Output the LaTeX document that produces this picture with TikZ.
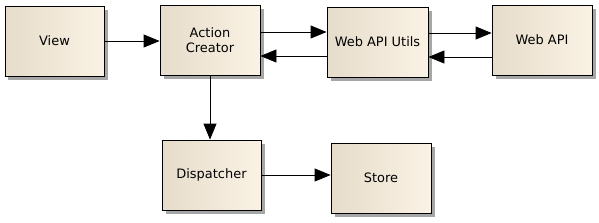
\documentclass[tikz,border=0pt]{standalone}
\usepackage{fontspec}
\setmainfont{DejaVu Sans}
\usetikzlibrary{arrows.meta,shadows}

\definecolor{boxleft}{HTML}{E6DCCB}
\definecolor{boxright}{HTML}{FAF2E4}

\begin{document}
\begin{tikzpicture}[x=1bp, y=-1bp,
	box/.style={draw, line width=0.8bp, minimum width=100bp, minimum height=70bp,
		left color=boxleft, right color=boxright, align=center,
		font=\fontsize{13}{15.5}\selectfont,
		drop shadow={shadow xshift=3.5bp, shadow yshift=-3.5bp, fill=black!35, opacity=1}},
	flow/.style={line width=0.8bp, -{Triangle[length=16bp,width=13bp]}}]

		\useasboundingbox (0,0) rectangle (599,222);

		% Boxes
		\node[box, minimum width=99bp] (view) at (54.5,41) {View};
		\node[box] (creator) at (210,40) {Action\\Creator};
		\node[box, minimum width=101bp] (utils) at (377.5,42) {Web API Utils};
		\node[box] (webapi) at (542,40) {Web API};
		\node[box, minimum width=99bp] (dispatcher) at (211.5,175) {Dispatcher};
		\node[box] (store) at (381,178) {Store};

		% Arrows
		\draw[flow] (view.east |- 0,41) -- (creator.west |- 0,41);
		\draw[flow] ([yshift=8bp]creator.east) -- ([yshift=8bp]creator.east -| utils.west);
		\draw[flow] ([yshift=-14bp]utils.west) -- ([yshift=-14bp]utils.west -| creator.east);
		\draw[flow] ([yshift=9bp]utils.east) -- ([yshift=9bp]utils.east -| webapi.west);
		\draw[flow] ([yshift=-17bp]webapi.west) -- ([yshift=-17bp]webapi.west -| utils.east);
		\draw[flow] (creator.south) -- (creator.south |- dispatcher.north);
		\draw[flow] (dispatcher.east) -- (dispatcher.east -| store.west);

	\end{tikzpicture}
\end{document}
